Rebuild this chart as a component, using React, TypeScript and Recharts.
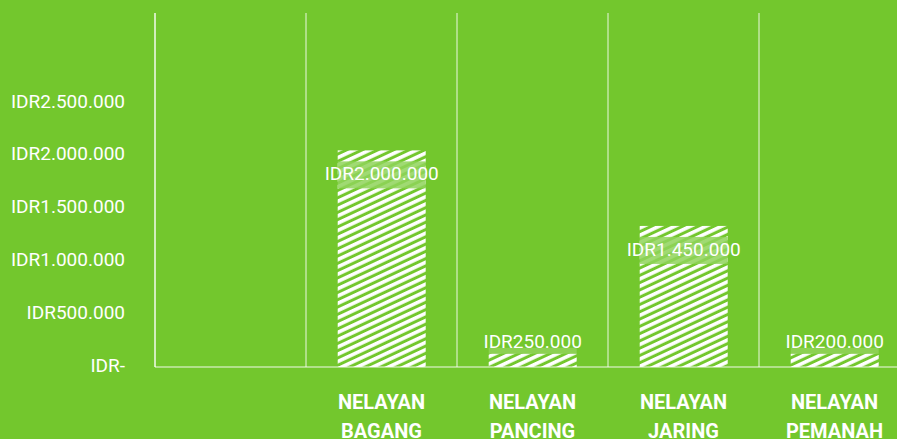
import {
	BarChart,
	Bar,
	XAxis,
	YAxis,
	CartesianGrid,
	LabelList,
} from "recharts";

const categories = [
	"",
	"NELAYAN BAGANG",
	"NELAYAN PANCING",
	"NELAYAN JARING",
	"NELAYAN PEMANAH",
];
// bar heights as they are drawn in the picture
const amounts = [0, 2050000, 125000, 1335000, 125000];
// texts printed on the bars
const amountLabels = ["", "IDR2.000.000", "IDR250.000", "IDR1.450.000", "IDR200.000"];
const yTicks = [0, 500000, 1000000, 1500000, 2000000, 2500000];
const yTickLabels = [
	"IDR-",
	"IDR500.000",
	"IDR1.000.000",
	"IDR1.500.000",
	"IDR2.000.000",
	"IDR2.500.000",
];

const BG = "#73c72d";
const FONT = "Roboto, 'Noto Sans', sans-serif";

const data = categories.map((name, i) => ({
	name,
	amount: amounts[i],
	label: amountLabels[i],
}));

function CategoryTick({ x, y, payload }: any) {
	const words = String(payload.value).split(" ").filter(Boolean);
	return (
		<text
			x={x}
			y={y + 42}
			textAnchor="middle"
			fill="#fff"
			fontFamily={FONT}
			fontWeight={700}
			fontSize={20}
		>
			{words.map((w, i) => (
				<tspan key={i} x={x} dy={i === 0 ? 0 : 29}>
					{w}
				</tspan>
			))}
		</text>
	);
}

function HatchBar({ x, y, width, height }: any) {
	if (!height || height <= 0) return null;
	return <rect x={x} y={y} width={width} height={height} fill="url(#hatch)" />;
}

function AmountLabel({ x, y, width, height, value }: any) {
	if (!value) return null;
	const tall = height > 40;
	const cy = tall ? y + 23 : y - 13;
	return (
		<g>
			{tall ? (
				<rect x={x} y={cy - 12} width={width} height={27} fill="#8fd35a" fillOpacity={0.85} />
			) : (
				<rect x={x} y={y - 6} width={width} height={6} fill="#fff" fillOpacity={0.18} />
			)}
			<text
				x={x + width / 2}
				y={cy + 7}
				textAnchor="middle"
				fill="#fff"
				fontFamily={FONT}
				fontSize={19}
			>
				{value}
			</text>
		</g>
	);
}

export default function App() {
	return (
		<div
			style={{
				position: "absolute",
				left: 0,
				top: 0,
				width: 897,
				height: 439,
				overflow: "hidden",
				background: BG,
			}}
		>
			<BarChart
				width={920}
				height={439}
				data={data}
				margin={{ top: 13, right: 10, bottom: 0, left: 0 }}
				barCategoryGap="21%"
			>
				<defs>
					<pattern
						id="hatch"
						patternUnits="userSpaceOnUse"
						width={10}
						height={6.6}
						patternTransform="rotate(-25)"
					>
						<rect x={0} y={0} width={10} height={3.6} fill="#fff" />
					</pattern>
				</defs>
				<CartesianGrid
					horizontal={false}
					stroke="#fff"
					strokeOpacity={0.85}
					verticalCoordinatesGenerator={({ offset }: any) =>
						categories.map(
							(_, i) => offset.left + (i * offset.width) / categories.length,
						).concat([offset.left + offset.width])
					}
				/>
				<XAxis
					dataKey="name"
					height={72}
					tickSize={0}
					tickMargin={0}
					axisLine={{ stroke: "#fff", strokeOpacity: 0.9 }}
					tick={<CategoryTick />}
					interval={0}
				/>
				<YAxis
					width={155}
					domain={[0, 3350000]}
					ticks={yTicks}
					tickFormatter={(v: number) => yTickLabels[yTicks.indexOf(v)]}
					tickSize={0}
					tickMargin={30}
					axisLine={{ stroke: "#fff", strokeOpacity: 0.9 }}
					tick={{ fill: "#fff", fontSize: 19, fontFamily: FONT, dy: -2 }}
				/>
				<Bar dataKey="amount" shape={<HatchBar />} isAnimationActive={false}>
					<LabelList dataKey="label" content={<AmountLabel />} />
				</Bar>
			</BarChart>
		</div>
	);
}
